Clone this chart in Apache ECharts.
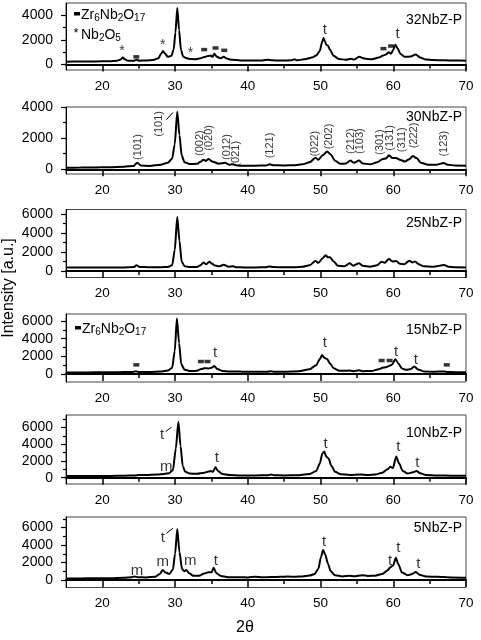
<!DOCTYPE html>
<html>
<head>
<meta charset="utf-8">
<script src="https://cdn.jsdelivr.net/npm/echarts@6/dist/echarts.min.js"></script>
<style>
html, body { margin: 0; padding: 0; background: #fff; }
#main { width: 481px; height: 640px; }
</style>
</head>
<body>
<div id="main"></div>
<script>
const FONT = '"Liberation Sans", Arial, sans-serif'

// x axis ticks (2 theta)
const xTicks = [20, 30, 40, 50, 60, 70]
const xMinor = [25, 35, 45, 55, 65]

// diffraction patterns, [2theta, intensity]
const s32 = [[15,230],[17,240],[19,250],[21,270],[22,300],[22.5,400],[22.8,560],[23.1,420],[23.5,310],[24.3,300],[24.7,380],[25.1,310],[26,320],[27,360],[27.7,500],[28.1,900],[28.35,1100],[28.6,900],[29,620],[29.5,700],[29.8,1200],[30.05,2600],[30.3,4600],[30.55,2800],[30.8,1200],[31.1,650],[31.5,520],[32,450],[32.8,420],[33.5,500],[34,600],[34.5,680],[34.9,720],[35.15,620],[35.4,880],[35.7,650],[36.2,500],[36.7,620],[37.1,480],[37.8,380],[39,330],[40,330],[41,330],[42,330],[42.8,380],[43.3,340],[44.5,320],[46,340],[46.4,420],[46.8,340],[48,450],[48.8,560],[49.4,720],[49.9,1100],[50.2,1800],[50.4,2150],[50.6,1900],[50.8,1600],[51,1550],[51.3,1200],[51.8,700],[52.5,450],[53.5,380],[54.2,460],[54.6,400],[55.3,620],[56,480],[57,420],[58,560],[58.6,720],[59,820],[59.4,1000],[59.7,880],[60,1200],[60.3,1600],[60.6,1300],[61,850],[61.6,620],[62.4,650],[63.1,820],[63.7,560],[64.5,400],[65.5,360],[67,340],[68.5,320],[70,310]]
const s30 = [[15,100],[17,110],[19,120],[21,140],[23,170],[24.3,220],[24.8,430],[25.3,240],[26.5,220],[28,300],[29,420],[29.6,700],[29.95,1600],[30.3,3700],[30.6,2200],[30.9,900],[31.3,450],[32,340],[33,350],[33.5,480],[33.9,620],[34.2,540],[34.6,660],[35.2,480],[36,360],[36.9,420],[37.4,300],[38,320],[38.5,240],[39.5,230],[41,230],[42.5,250],[43,330],[43.5,260],[45,250],[46.5,260],[47.5,320],[48.5,450],[49.3,750],[49.7,620],[50.3,900],[50.9,1150],[51.4,950],[52,550],[52.7,350],[53.5,380],[54.1,560],[54.6,420],[55.3,560],[55.8,380],[56.8,320],[57.8,450],[58.5,650],[59,700],[59.4,900],[59.9,720],[60.4,720],[61,600],[61.6,500],[62.2,650],[62.7,850],[63.2,720],[63.8,420],[64.8,300],[66,300],[66.9,400],[67.5,300],[68.5,240],[70,230]]
const s25 = [[15,360],[17,360],[19,360],[21,360],[23,370],[24.3,400],[24.7,600],[25.1,420],[26.5,380],[28,380],[29,420],[29.6,600],[29.95,2200],[30.3,5700],[30.6,3200],[30.9,1000],[31.3,500],[32,400],[33,420],[33.5,600],[33.9,880],[34.3,700],[34.7,980],[35.1,750],[35.5,560],[36.1,480],[36.7,660],[37.3,450],[38,480],[38.4,380],[39.5,370],[41,370],[42.5,390],[43,470],[43.5,400],[45,380],[46.5,390],[47.5,430],[48.5,600],[49.3,1050],[49.7,850],[50.3,1350],[50.7,1650],[51,1450],[51.3,1450],[51.8,1000],[52.4,550],[53.3,500],[54,800],[54.5,550],[55.3,820],[55.8,550],[56.8,450],[57.8,600],[58.4,980],[58.8,850],[59.4,1250],[59.9,1000],[60.4,1050],[60.9,750],[61.5,700],[62.2,1080],[62.6,900],[63,1000],[63.5,700],[64.2,480],[65.5,440],[67,620],[67.6,450],[68.5,380],[70,360]]
const s15 = [[15,180],[17,180],[19,190],[21,200],[23,220],[24.2,240],[24.6,320],[25,240],[26.5,230],[28,280],[29,400],[29.6,700],[29.95,2600],[30.25,6300],[30.55,3500],[30.85,1100],[31.3,500],[32,350],[33,360],[33.6,560],[34,650],[34.6,640],[35,700],[35.4,900],[35.8,580],[36.5,350],[37.5,280],[38.2,300],[39.5,260],[41,250],[42.7,260],[43.1,330],[43.5,270],[45,260],[47,320],[48.5,550],[49.4,1000],[49.9,1700],[50.2,2150],[50.5,1850],[50.9,1700],[51.3,1200],[51.8,650],[52.6,380],[53.5,360],[53.9,400],[54.5,330],[55.3,420],[55.8,330],[57,350],[58,550],[58.5,700],[59,760],[59.4,900],[59.8,1050],[60.3,1680],[60.7,1200],[61.2,620],[61.8,480],[62.4,560],[62.9,850],[63.4,520],[64.2,300],[65.5,250],[67,300],[67.5,240],[68.5,210],[70,200]]
const s10 = [[15,200],[17,200],[19,210],[21,220],[23,250],[24.5,280],[25,320],[26,320],[27.5,380],[28.5,440],[29.2,550],[29.7,900],[30.1,3500],[30.45,6700],[30.75,3800],[31.05,1400],[31.4,700],[32,500],[33,480],[34,600],[34.6,750],[34.95,800],[35.2,700],[35.55,1250],[35.9,800],[36.5,450],[37.5,330],[39,280],[41,270],[42.8,300],[43.2,380],[43.6,300],[45,270],[47,300],[48.5,450],[49.4,800],[49.9,1700],[50.25,2900],[50.5,3150],[50.8,2500],[51.1,2300],[51.5,1400],[52,700],[52.8,420],[54,330],[55.5,380],[56.5,320],[57.5,380],[58.5,600],[59.2,1000],[59.6,1300],[59.95,1150],[60.4,2550],[60.8,1700],[61.3,800],[62,500],[62.7,650],[63.2,800],[63.7,550],[64.5,320],[66,270],[68,240],[70,230]]
const s5 = [[15,180],[17,190],[19,200],[21,210],[23,260],[24,330],[24.4,400],[24.9,330],[26,300],[27.3,380],[27.9,700],[28.3,1140],[28.7,850],[29.2,700],[29.7,1200],[30,3000],[30.3,5830],[30.6,3200],[30.95,1300],[31.25,1000],[31.55,1150],[31.9,800],[32.5,500],[33.3,500],[34,750],[34.6,900],[35,880],[35.3,1400],[35.65,800],[36.3,450],[37.5,320],[38.8,330],[40,300],[41,380],[42,320],[43.2,340],[44.5,380],[45.5,400],[46.5,370],[47.5,420],[48.5,520],[49.2,700],[49.7,1300],[50.05,2600],[50.35,3430],[50.65,2900],[51,1900],[51.4,1000],[52,550],[53,420],[54,480],[54.6,430],[55.7,560],[56.5,470],[57.5,500],[58.5,700],[59.2,1100],[59.6,1450],[60,1700],[60.35,2560],[60.7,1800],[61.2,850],[62,550],[62.6,700],[63.1,920],[63.6,600],[64.5,400],[66,380],[68,300],[70,270]]

// phase marks: letters, stars, Zr6Nb2O17 bars, hkl indices
const txt32 = [[50.6,2780,'t'],[60.6,2500,'t']]
const star32 = [[22.7,1050],[28.3,1600],[32.1,920]]
const bar32 = [[24.67,620],[34.0,1210],[35.56,1340],[36.76,1150],[58.65,1290],[59.7,1500]]
const hkl30 = [[24.85,1430,'(101)'],[27.8,2920,'(101)'],[33.46,1680,'(002)'],[34.7,2020,'(020)'],[37.1,1430,'(012)'],[38.4,1000,'(021)'],[43.1,1530,'(121)'],[49.3,1640,'(022)'],[51.1,2110,'(202)'],[54.2,1810,'(212)'],[55.4,1810,'(103)'],[58.2,1750,'(301)'],[59.55,2020,'(131)'],[61.2,1900,'(311)'],[62.9,2170,'(222)'],[67.0,1640,'(123)']]
const txt15 = [[35.5,2360,'t'],[50.6,3480,'t'],[60.4,2540,'t'],[63.1,1600,'t']]
const bar15 = [[24.67,1040],[33.55,1420],[34.46,1420],[58.4,1530],[59.5,1530],[67.35,1040]]
const txt10 = [[28.2,5120,'t'],[28.8,1270,'m'],[35.75,2350,'t'],[50.7,4050,'t'],[60.7,3650,'t'],[63.3,1790,'t']]
const txt5 = [[24.77,1070,'m'],[28.3,2100,'m'],[28.3,4770,'t'],[32.1,2170,'m'],[35.6,2170,'t'],[50.5,4310,'t'],[59.55,2170,'t'],[60.7,3700,'t'],[63.45,1830,'t']]
const slash30 = [[28.8,3180],[29.7,3650]]
const slash10 = [[28.7,5520],[29.5,6040]]
const slash5 = [[28.8,5340],[29.7,5910]]

const panels = [
  { name: '32NbZ-P', data: s32, top: 3, height: 67, min: -450, max: 5000, major: [0, 2000, 4000], minor: [1000, 3000], ny: 20 },
  { name: '30NbZ-P', data: s30, top: 107, height: 67, min: -300, max: 4000, major: [0, 2000, 4000], minor: [1000, 3000], ny: 117 },
  { name: '25NbZ-P', data: s25, top: 209.5, height: 68, min: -700, max: 6500, major: [0, 2000, 4000, 6000], minor: [1000, 3000, 5000], ny: 223 },
  { name: '15NbZ-P', data: s15, top: 314, height: 68, min: -900, max: 6800, major: [0, 2000, 4000, 6000], minor: [1000, 3000, 5000], ny: 330 },
  { name: '10NbZ-P', data: s10, top: 415, height: 69, min: -750, max: 7500, major: [0, 2000, 4000, 6000], minor: [1000, 3000, 5000, 7000], ny: 433 },
  { name: '5NbZ-P', data: s5, top: 517, height: 70.5, min: -850, max: 7200, major: [0, 2000, 4000, 6000], minor: [1000, 3000, 5000, 7000], ny: 528 }
]

const grids = [], xAxes = [], yAxes = [], series = [], graphics = []

function labelSeries(i, data, size, rotate) {
  return {
    type: 'scatter', xAxisIndex: 2 * i, yAxisIndex: 2 * i, silent: true,
    symbol: 'circle', symbolSize: 1, itemStyle: { color: 'rgba(0,0,0,0)' },
    data: data,
    label: {
      show: true, position: 'inside', color: '#000', fontSize: size, fontFamily: FONT,
      rotate: rotate || 0,
      formatter: p => p.data[2]
    },
    z: 5
  }
}

panels.forEach((p, i) => {
  grids.push({ left: 66, right: 15, top: p.top, height: p.height, show: true, borderColor: '#444', borderWidth: 1 })
  xAxes.push({
    gridIndex: i, type: 'value', min: 15, max: 70, position: 'bottom',
    axisLine: { lineStyle: { color: '#000', width: 2 } },
    axisTick: { show: true, customValues: xTicks, length: 7, lineStyle: { color: '#000', width: 1.5 } },
    axisLabel: { customValues: xTicks, color: '#000', fontSize: 13.5, fontFamily: FONT, margin: 9 },
    splitLine: { show: false }
  })
  xAxes.push({
    gridIndex: i, type: 'value', min: 15, max: 70, position: 'bottom',
    axisLine: { show: false },
    axisTick: { show: true, customValues: xMinor, length: 4, lineStyle: { color: '#000', width: 1.5 } },
    axisLabel: { show: false },
    splitLine: { show: false }
  })
  yAxes.push({
    gridIndex: i, type: 'value', min: p.min, max: p.max, position: 'left',
    axisLine: { show: true, lineStyle: { color: '#000', width: 1 } },
    axisTick: { show: true, customValues: p.major, length: 5, lineStyle: { color: '#000', width: 1.2 } },
    axisLabel: { customValues: p.major, color: '#000', fontSize: 14, fontFamily: FONT, margin: 13, formatter: v => String(v) },
    splitLine: { show: false }
  })
  yAxes.push({
    gridIndex: i, type: 'value', min: p.min, max: p.max, position: 'left',
    axisLine: { show: false },
    axisTick: { show: true, customValues: p.minor, length: 3, lineStyle: { color: '#000', width: 1.2 } },
    axisLabel: { show: false },
    splitLine: { show: false }
  })
  series.push({
    name: p.name, type: 'line', xAxisIndex: 2 * i, yAxisIndex: 2 * i,
    data: p.data, symbol: 'none', smooth: 0.25, smoothMonotone: 'x',
    lineStyle: { color: '#000', width: 2 }, z: 3
  })
  graphics.push({
    type: 'text', x: 462, y: p.ny, silent: true,
    style: { text: p.name, fill: '#000', font: '14px ' + FONT, textAlign: 'right', textVerticalAlign: 'middle' }
  })
})

function barSeries(i, data) {
  return {
    type: 'scatter', xAxisIndex: 2 * i, yAxisIndex: 2 * i, silent: true,
    symbol: 'rect', symbolSize: [6, 3.5], itemStyle: { color: '#000' }, data: data, z: 5
  }
}
function slashSeries(i, data) {
  return {
    type: 'line', xAxisIndex: 2 * i, yAxisIndex: 2 * i, silent: true,
    symbol: 'none', data: data, lineStyle: { color: '#000', width: 1 }, z: 5
  }
}

series.push(labelSeries(0, txt32, 15))
series.push(labelSeries(0, star32.map(d => [d[0], d[1], '*']), 14))
series.push(barSeries(0, bar32))
series.push(labelSeries(1, hkl30, 11, 90))
series.push(slashSeries(1, slash30))
series.push(labelSeries(3, txt15, 15))
series.push(barSeries(3, bar15))
series.push(labelSeries(4, txt10, 15))
series.push(slashSeries(4, slash10))
series.push(labelSeries(5, txt5, 15))
series.push(slashSeries(5, slash5))

const subRich = {
  a: { fontSize: 14, fontFamily: FONT, color: '#000', lineHeight: 16 },
  s: { fontSize: 10, fontFamily: FONT, color: '#000', lineHeight: 4, verticalAlign: 'bottom' }
}

// legends
graphics.push({ type: 'rect', shape: { x: 74, y: 12, width: 6, height: 3.5 }, style: { fill: '#000' }, silent: true })
graphics.push({
  type: 'text', x: 81, y: 15, silent: true,
  style: { text: '{a|Zr}{s|6}{a|Nb}{s|2}{a|O}{s|17}', rich: subRich, textVerticalAlign: 'middle' }
})
graphics.push({
  type: 'text', x: 76, y: 33, silent: true,
  style: { text: '*', fill: '#000', font: '13px ' + FONT, textAlign: 'center', textVerticalAlign: 'middle' }
})
graphics.push({
  type: 'text', x: 81, y: 35, silent: true,
  style: { text: '{a|Nb}{s|2}{a|O}{s|5}', rich: subRich, textVerticalAlign: 'middle' }
})
graphics.push({ type: 'rect', shape: { x: 75, y: 326, width: 6, height: 3.5 }, style: { fill: '#000' }, silent: true })
graphics.push({
  type: 'text', x: 82, y: 329, silent: true,
  style: { text: '{a|Zr}{s|6}{a|Nb}{s|2}{a|O}{s|17}', rich: subRich, textVerticalAlign: 'middle' }
})

// axis titles
graphics.push({
  type: 'text', x: 9, y: 288, rotation: Math.PI / 2, silent: true,
  style: { text: 'Intensity [a.u.]', fill: '#000', font: '16px ' + FONT, textAlign: 'center', textVerticalAlign: 'middle' }
})
graphics.push({
  type: 'text', x: 245, y: 628, silent: true,
  style: { text: '2θ', fill: '#000', font: '16px ' + FONT, textAlign: 'center', textVerticalAlign: 'middle' }
})

const chart = echarts.init(document.getElementById('main'))
chart.setOption({
  animation: false,
  backgroundColor: '#fff',
  grid: grids,
  xAxis: xAxes,
  yAxis: yAxes,
  series: series,
  graphic: graphics
})
</script>
</body>
</html>
